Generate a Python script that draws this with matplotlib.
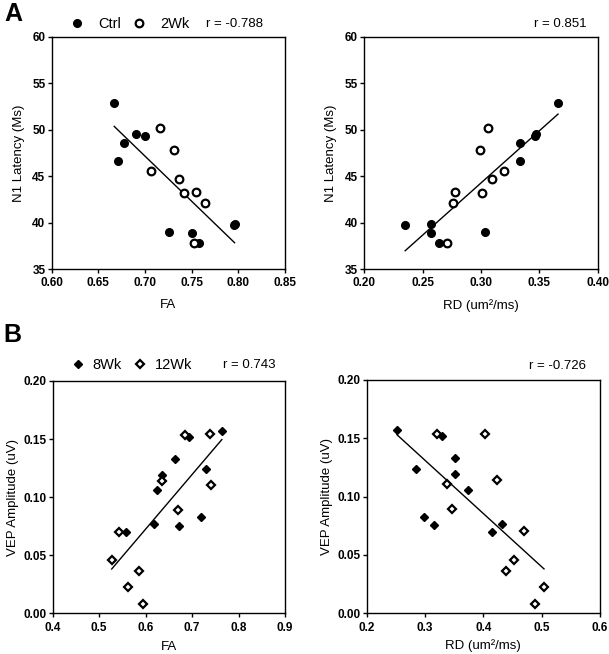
import matplotlib
matplotlib.use("Agg")
import matplotlib.pyplot as plt
import numpy as np

plt.rcParams['font.family'] = ['Liberation Sans', 'DejaVu Sans']

# Panel A: N1 latency vs FA / RD
ctrl_fa = [0.667, 0.671, 0.678, 0.690, 0.700, 0.726, 0.750, 0.7575, 0.795, 0.796]
ctrl_rd = [0.366, 0.333, 0.333, 0.347, 0.346, 0.303, 0.257, 0.264, 0.235, 0.257]
ctrl_lat = [52.9, 46.6, 48.6, 49.5, 49.3, 39.0, 38.9, 37.8, 39.7, 39.8]

wk2_fa = [0.716, 0.731, 0.706, 0.736, 0.742, 0.755, 0.764, 0.753]
wk2_rd = [0.306, 0.299, 0.320, 0.309, 0.301, 0.278, 0.276, 0.271]
wk2_lat = [50.2, 47.8, 45.6, 44.7, 43.2, 43.3, 42.1, 37.8]

# Panel B: VEP amplitude vs FA / RD
wk8_fa = [0.558, 0.617, 0.625, 0.635, 0.663, 0.671, 0.693, 0.719, 0.730, 0.764]
wk8_rd = [0.415, 0.432, 0.374, 0.352, 0.351, 0.315, 0.329, 0.298, 0.284, 0.252]
wk8_amp = [0.070, 0.0765, 0.106, 0.119, 0.133, 0.0755, 0.152, 0.0826, 0.124, 0.157]

wk12_fa = [0.527, 0.543, 0.561, 0.586, 0.595, 0.635, 0.670, 0.685, 0.739, 0.741]
wk12_rd = [0.453, 0.470, 0.504, 0.438, 0.488, 0.423, 0.346, 0.321, 0.403, 0.338]
wk12_amp = [0.0455, 0.0702, 0.0227, 0.036, 0.0078, 0.114, 0.0892, 0.1537, 0.154, 0.1105]

W, H = 609, 654
fig = plt.figure(figsize=(W / 100, H / 100), dpi=100)


def add_ax(left, top, right, bottom):
    return fig.add_axes([left / W, 1 - bottom / H, (right - left) / W, (bottom - top) / H])


def style_ax(ax, xlim, xticks, xfmt, ylim, yticks, yfmt, xlabel, ylabel, xpad=7, ypad=5.5):
    ax.set_xlim(xlim)
    ax.set_ylim(ylim)
    ax.set_xticks(xticks)
    ax.set_yticks(yticks)
    ax.set_xticklabels([xfmt.format(v) for v in xticks], fontweight='bold', fontsize=8.5)
    ax.set_yticklabels([yfmt.format(v) for v in yticks], fontweight='bold', fontsize=8.5)
    ax.tick_params(direction='out', length=3, width=1)
    ax.tick_params(axis='x', pad=3)
    ax.tick_params(axis='y', pad=1.5)
    for s in ax.spines.values():
        s.set_linewidth(1)
    ax.set_xlabel(xlabel, fontsize=9.5, labelpad=xpad)
    ax.set_ylabel(ylabel, fontsize=9.5, labelpad=ypad)


def fit_line(ax, xs, ys):
    x = np.array(xs)
    y = np.array(ys)
    k, b = np.polyfit(x, y, 1)
    xx = np.array([x.min(), x.max()])
    ax.plot(xx, k * xx + b, color='black', lw=1, zorder=1)


def scatter_pair(ax, x1, y1, x2, y2, marker, ms):
    ax.plot(x1, y1, linestyle='none', marker=marker, ms=ms, mfc='black', mec='black', zorder=3)
    ax.plot(x2, y2, linestyle='none', marker=marker, ms=ms, mfc='white', mec='black', mew=1.6, zorder=3)


def legend_row(ax, marker, ms, labels, y, textpad):
    h1 = plt.Line2D([], [], linestyle='none', marker=marker, ms=ms, mfc='black', mec='black')
    h2 = plt.Line2D([], [], linestyle='none', marker=marker, ms=ms, mfc='white', mec='black', mew=1.6)
    ax.legend([h1, h2], labels, ncol=2, loc='center left', bbox_to_anchor=(0.077, y),
              frameon=False, fontsize=10.5, handlelength=1.0, handletextpad=textpad,
              columnspacing=0.75, borderpad=0, borderaxespad=0)


def r_label(ax, text, x, y):
    ax.text(x, y, text, transform=ax.transAxes, ha='right', va='center', fontsize=9.5)


# A left
ax = add_ax(51.7, 36.7, 285, 269)
fit_line(ax, ctrl_fa + wk2_fa, ctrl_lat + wk2_lat)
scatter_pair(ax, ctrl_fa, ctrl_lat, wk2_fa, wk2_lat, 'o', 5.5)
style_ax(ax, (0.60, 0.85), [0.60, 0.65, 0.70, 0.75, 0.80, 0.85], '{:.2f}',
         (35, 60), [35, 40, 45, 50, 55, 60], '{:d}', 'FA', 'N1 Latency (Ms)')
legend_row(ax, 'o', 5.5, ['Ctrl', '2Wk'], 1.055, 0.95)
r_label(ax, 'r = -0.788', 0.906, 1.055)

# A right
ax = add_ax(364.3, 36.7, 597.7, 269)
fit_line(ax, ctrl_rd + wk2_rd, ctrl_lat + wk2_lat)
scatter_pair(ax, ctrl_rd, ctrl_lat, wk2_rd, wk2_lat, 'o', 5.5)
style_ax(ax, (0.20, 0.40), [0.20, 0.25, 0.30, 0.35, 0.40], '{:.2f}',
         (35, 60), [35, 40, 45, 50, 55, 60], '{:d}', 'RD (um²/ms)', 'N1 Latency (Ms)')
r_label(ax, 'r = 0.851', 0.954, 1.055)

# B left
ax = add_ax(52.7, 381, 285, 613.3)
fit_line(ax, wk8_fa + wk12_fa, wk8_amp + wk12_amp)
scatter_pair(ax, wk8_fa, wk8_amp, wk12_fa, wk12_amp, 'D', 4.5)
style_ax(ax, (0.4, 0.9), [0.4, 0.5, 0.6, 0.7, 0.8, 0.9], '{:.1f}',
         (0, 0.20), [0.00, 0.05, 0.10, 0.15, 0.20], '{:.2f}', 'FA', 'VEP Amplitude (uV)',
         xpad=5, ypad=3)
legend_row(ax, 'D', 4.5, ['8Wk', '12Wk'], 1.069, 0.5)
r_label(ax, 'r = 0.743', 0.957, 1.069)

# B right
ax = add_ax(366.7, 380, 600, 613.3)
fit_line(ax, wk8_rd + wk12_rd, wk8_amp + wk12_amp)
scatter_pair(ax, wk8_rd, wk8_amp, wk12_rd, wk12_amp, 'D', 4.5)
style_ax(ax, (0.2, 0.6), [0.2, 0.3, 0.4, 0.5, 0.6], '{:.1f}',
         (0, 0.20), [0.00, 0.05, 0.10, 0.15, 0.20], '{:.2f}', 'RD (um²/ms)', 'VEP Amplitude (uV)',
         xpad=4, ypad=3)
r_label(ax, 'r = -0.726', 0.94, 1.06)

fig.text(4 / W, 1 - 2 / H, 'A', fontsize=18, fontweight='bold', ha='left', va='top')
fig.text(3 / W, 1 - 323 / H, 'B', fontsize=18, fontweight='bold', ha='left', va='top')

fig.savefig('out.png', dpi=100)
